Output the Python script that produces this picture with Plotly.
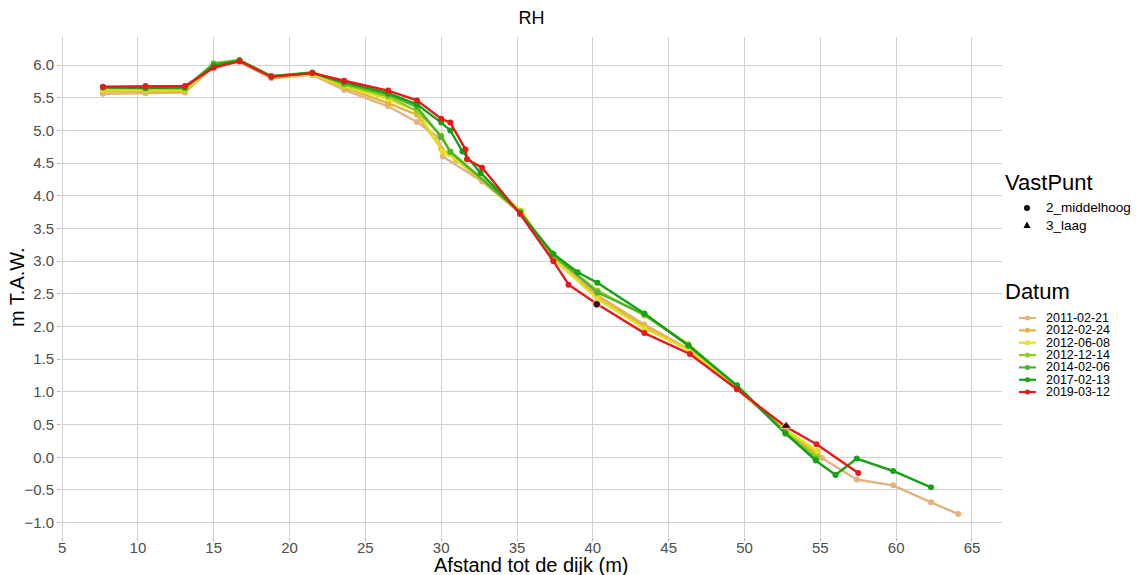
import plotly.graph_objects as go

# ---------------- data ----------------
dates = ["2011-02-21", "2012-02-24", "2012-06-08", "2012-12-14",
         "2014-02-06", "2017-02-13", "2019-03-12"]
colors = ["#E3B37F", "#E5B43C", "#E3E31C", "#93CC1F",
          "#4DB52B", "#16A116", "#E8191B"]

x_2011 = [7.7, 10.5, 13.1, 15.0, 16.7, 18.8, 21.5, 23.6, 26.5, 28.4, 29.8, 30.1,
          32.7, 35.2, 37.3, 40.3, 43.4, 46.3, 49.5, 52.7, 55.1, 57.4, 59.8, 62.3, 64.1]
y_2011 = [5.56, 5.57, 5.58, 5.99, 6.05, 5.80, 5.85, 5.62, 5.37, 5.13, 4.90, 4.60,
          4.22, 3.74, 3.06, 2.48, 2.03, 1.66, 1.04, 0.40, -0.01, -0.34, -0.43, -0.69, -0.87]

x_2012a = [7.7, 10.5, 13.1, 15.0, 16.7, 18.8, 21.5, 23.6, 26.5, 28.4, 30.0, 31.0,
           35.2, 37.3, 40.3, 43.4, 46.3, 49.5, 52.7, 54.8]
y_2012a = [5.60, 5.60, 5.60, 6.00, 6.06, 5.81, 5.86, 5.66, 5.42, 5.24, 4.72, 4.55,
           3.74, 3.05, 2.45, 2.00, 1.64, 1.05, 0.42, 0.05]

x_2012b = [7.7, 10.5, 13.1, 15.0, 16.7, 18.8, 21.5, 23.6, 26.5, 28.4, 30.1, 30.5,
           35.3, 37.3, 40.3, 43.4, 46.3, 49.5, 52.7, 54.8]
y_2012b = [5.62, 5.62, 5.62, 6.00, 6.06, 5.82, 5.86, 5.68, 5.48, 5.30, 4.68, 4.64,
           3.77, 3.06, 2.42, 1.97, 1.65, 1.06, 0.42, 0.10]

x_2012c = [7.7, 10.5, 13.1, 15.0, 16.7, 18.8, 21.5, 23.6, 26.5, 28.4, 30.0, 30.6,
           35.2, 37.3, 40.3, 43.4, 46.3, 49.5, 52.7, 54.8]
y_2012c = [5.65, 5.64, 5.64, 6.03, 6.08, 5.83, 5.89, 5.70, 5.52, 5.30, 4.92, 4.68,
           3.76, 3.09, 2.55, 2.17, 1.73, 1.08, 0.38, 0.00]

x_2014 = [7.7, 10.5, 13.1, 15.0, 16.7, 18.8, 21.5, 23.6, 26.5, 28.4, 30.0, 30.6,
          35.2, 37.3, 40.3, 43.4, 46.3, 49.5, 52.7, 54.7]
y_2014 = [5.66, 5.65, 5.65, 6.02, 6.07, 5.83, 5.88, 5.72, 5.55, 5.36, 4.90, 4.67,
          3.75, 3.12, 2.52, 2.19, 1.71, 1.09, 0.36, -0.03]

x_2017 = [7.7, 10.5, 13.1, 15.0, 16.7, 18.8, 21.5, 23.6, 26.5, 28.4, 30.0, 30.6,
          31.4, 32.6, 35.2, 37.4, 39.0, 40.3, 43.4, 46.3, 49.5, 52.7, 54.7, 56.0,
          57.4, 59.8, 62.3]
y_2017 = [5.66, 5.65, 5.66, 5.99, 6.07, 5.83, 5.88, 5.74, 5.57, 5.40, 5.12, 5.00,
          4.68, 4.35, 3.74, 3.11, 2.83, 2.67, 2.20, 1.71, 1.10, 0.37, -0.05, -0.27,
          -0.02, -0.21, -0.46]

x_2019 = [7.7, 10.5, 13.1, 15.0, 16.7, 18.8, 21.5, 23.6, 26.5, 28.4, 30.0, 30.6,
          31.6, 31.7, 32.7, 35.2, 37.4, 38.4, 40.3, 43.4, 46.4, 49.5, 52.7, 54.75, 57.5]
y_2019 = [5.67, 5.68, 5.68, 5.96, 6.06, 5.82, 5.88, 5.76, 5.61, 5.46, 5.18, 5.12,
          4.71, 4.56, 4.43, 3.72, 3.00, 2.64, 2.34, 1.90, 1.58, 1.04, 0.47, 0.20, -0.24]

series_x = [x_2011, x_2012a, x_2012b, x_2012c, x_2014, x_2017, x_2019]
series_y = [y_2011, y_2012a, y_2012b, y_2012c, y_2014, y_2017, y_2019]

vp_names = ["2_middelhoog", "3_laag"]
vp_x = [40.25, 52.75]
vp_y = [2.34, 0.48]
vp_symbols = ["circle", "triangle-up"]

x_ticks = list(range(5, 70, 5))
y_ticks = [-1.0, -0.5, 0.0, 0.5, 1.0, 1.5, 2.0, 2.5, 3.0, 3.5, 4.0, 4.5, 5.0, 5.5, 6.0]

# ---------------- figure ----------------
W, H = 1136, 575
L, R, T, B = 61, 134, 37, 38
FONT = "Liberation Sans, Arial, sans-serif"

fig = go.Figure()
for d, c, xs, ys in zip(dates, colors, series_x, series_y):
    fig.add_trace(go.Scatter(x=xs, y=ys, mode="lines+markers", name=d,
                             line=dict(color=c, width=2.4),
                             marker=dict(color=c, size=6),
                             showlegend=False))
fig.add_trace(go.Scatter(x=vp_x, y=vp_y, mode="markers", name="VastPunt",
                         marker=dict(color="black", size=[8, 10], symbol=vp_symbols),
                         showlegend=False))

axis_common = dict(showgrid=True, gridcolor="#D0D0D0", gridwidth=1,
                   zeroline=False, showline=False, ticks="outside",
                   ticklen=3, tickcolor="#B0B0B0", tickwidth=1,
                   tickfont=dict(family=FONT, size=15, color="#4D4D4D"))

fig.update_layout(
    width=W, height=H,
    margin=dict(l=L, r=R, t=T, b=B, pad=0),
    plot_bgcolor="white", paper_bgcolor="white",
    font=dict(family=FONT),
    title=dict(text="RH", x=(L + (W - R)) / 2 / W, xanchor="center",
               y=1 - 18 / H, yanchor="middle", yref="container",
               font=dict(family=FONT, size=18, color="black")),
    xaxis=dict(range=[4.93, 66.98], tickvals=x_ticks, ticklabelstandoff=-6, **axis_common),
    yaxis=dict(range=[-1.22, 6.43], tickvals=y_ticks, tickformat=".1f", **axis_common),
)

def px2paper(px, py):
    return (px - L) / (W - L - R), (H - B - py) / (H - T - B)

annotations = []
shapes = []

# axis titles
ax, ay = px2paper((L + W - R) / 2, 565)
annotations.append(dict(x=ax, y=ay, xref="paper", yref="paper", text="Afstand tot de dijk (m)",
                        showarrow=False, xanchor="center", yanchor="middle",
                        font=dict(family=FONT, size=20, color="black")))
ax, ay = px2paper(17, (T + H - B) / 2)
annotations.append(dict(x=ax, y=ay, xref="paper", yref="paper", text="m T.A.W.",
                        showarrow=False, textangle=-90, xanchor="center", yanchor="middle",
                        font=dict(family=FONT, size=20, color="black")))

# legend: VastPunt
LX = 1003
tx, ty = px2paper(LX, 182)
annotations.append(dict(x=tx, y=ty, xref="paper", yref="paper", text="VastPunt",
                        showarrow=False, xanchor="left", yanchor="middle",
                        font=dict(family=FONT, size=22, color="black")))
for name, sym, py in zip(vp_names, vp_symbols, [208, 225]):
    sx, sy = px2paper(1027, py)
    if sym == "circle":
        shapes.append(dict(type="circle", xref="paper", yref="paper",
                           xsizemode="pixel", ysizemode="pixel", xanchor=sx, yanchor=sy,
                           x0=-3, x1=3, y0=-3, y1=3, fillcolor="black", line=dict(width=0)))
    else:
        shapes.append(dict(type="path", xref="paper", yref="paper",
                           xsizemode="pixel", ysizemode="pixel", xanchor=sx, yanchor=sy,
                           path="M -3.5 -3 L 3.5 -3 L 0 3.5 Z", fillcolor="black",
                           line=dict(width=0)))
    lx, ly = px2paper(1044, py)
    annotations.append(dict(x=lx, y=ly, xref="paper", yref="paper", text=name,
                            showarrow=False, xanchor="left", yanchor="middle",
                            font=dict(family=FONT, size=13.5, color="black")))

# legend: Datum
tx, ty = px2paper(LX, 291)
annotations.append(dict(x=tx, y=ty, xref="paper", yref="paper", text="Datum",
                        showarrow=False, xanchor="left", yanchor="middle",
                        font=dict(family=FONT, size=22, color="black")))
for i, (d, c) in enumerate(zip(dates, colors)):
    py = 318 + i * 12.35
    x0, y0 = px2paper(1019, py)
    x1, _ = px2paper(1036, py)
    shapes.append(dict(type="line", xref="paper", yref="paper", x0=x0, x1=x1, y0=y0, y1=y0,
                       line=dict(color=c, width=2.2)))
    sx, sy = px2paper(1027.5, py)
    shapes.append(dict(type="circle", xref="paper", yref="paper",
                       xsizemode="pixel", ysizemode="pixel", xanchor=sx, yanchor=sy,
                       x0=-2.5, x1=2.5, y0=-2.5, y1=2.5, fillcolor=c, line=dict(width=0)))
    lx, ly = px2paper(1044, py)
    annotations.append(dict(x=lx, y=ly, xref="paper", yref="paper", text=d,
                            showarrow=False, xanchor="left", yanchor="middle",
                            font=dict(family=FONT, size=12.5, color="black")))

fig.update_layout(annotations=annotations, shapes=shapes)
fig.write_html("out.html", config={"displayModeBar": False},
               post_script="document.body.style.margin='0px';document.body.style.overflow='hidden';")
